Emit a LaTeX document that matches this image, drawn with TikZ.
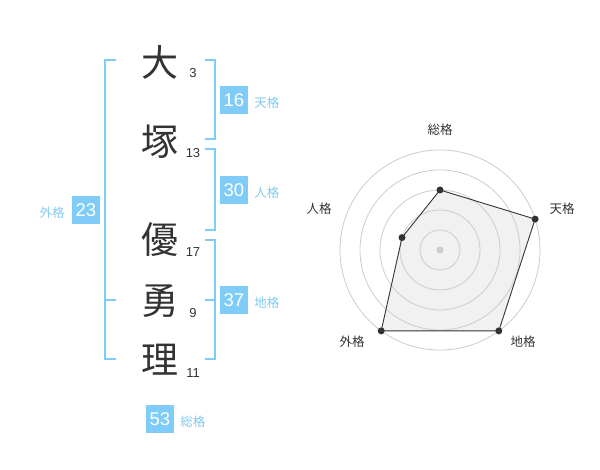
\documentclass[tikz,border=0pt]{standalone}
\usepackage{fontspec}
\setmainfont{Liberation Sans}
\newfontfamily\cjk{Noto Sans CJK JP}
\definecolor{skyb}{RGB}{128,204,248}
\definecolor{labb}{RGB}{130,200,240}
\definecolor{ink}{RGB}{51,51,51}
\definecolor{ringc}{RGB}{204,204,204}
\definecolor{polyfill}{RGB}{241,241,241}
\tikzset{
  kanji/.style={font=\cjk\fontsize{37}{37}\selectfont, text=ink, inner sep=0pt},
  stroke/.style={font=\fontsize{13}{13}\selectfont, text=ink, inner sep=0pt},
  valbox/.style={fill=skyb, text=white, minimum width=28pt, minimum height=28pt, inner sep=0pt, font=\fontsize{18.5}{18.5}\selectfont},
  blab/.style={text=labb, font=\cjk\fontsize{12.5}{12.5}\selectfont, inner sep=0pt},
  brk/.style={draw=skyb, line width=2pt},
  ring/.style={draw=ringc, line width=0.8pt},
  rlab/.style={text=ink, font=\cjk\fontsize{12.5}{12.5}\selectfont, inner sep=0pt},
  dot/.style={circle, fill=ink, minimum size=7pt, inner sep=0pt},
}
\begin{document}
\begin{tikzpicture}[x=1pt,y=-1pt]
\useasboundingbox (0,0) rectangle (600,470);
% kanji
\node[kanji] (k1) at (160,62) {大};
\node[kanji] (k2) at (160,142) {塚};
\node[kanji] (k3) at (160,240) {優};
\node[kanji] (k4) at (160,301) {勇};
\node[kanji] (k5) at (160,360) {理};
\node[stroke] (s1) at (193,73) {3};
\node[stroke] (s2) at (193,153) {13};
\node[stroke] (s3) at (193,252) {17};
\node[stroke] (s4) at (193,313) {9};
\node[stroke] (s5) at (193,373) {11};
% brackets
\draw[brk] (116,60) -- (105,60) -- (105,359) -- (116,359);
\draw[brk] (105,300) -- (116,300);
\draw[brk] (205,60) -- (215,60) -- (215,139) -- (205,139);
\draw[brk] (205,149) -- (215,149) -- (215,230) -- (205,230);
\draw[brk] (205,240) -- (215,240) -- (215,359) -- (205,359);
\draw[brk] (205,300) -- (215,300);
% value boxes
\node[valbox] (b23) at (86,210) {23};
\node[blab, anchor=east] (l23) at ([xshift=-7pt,yshift=-3pt]b23.west) {外格};
\node[valbox] (b16) at (234,100) {16};
\node[blab, anchor=west] (l16) at ([xshift=6pt,yshift=-3pt]b16.east) {天格};
\node[valbox] (b30) at (234,190) {30};
\node[blab, anchor=west] (l30) at ([xshift=6pt,yshift=-3pt]b30.east) {人格};
\node[valbox] (b37) at (234,300) {37};
\node[blab, anchor=west] (l37) at ([xshift=6pt,yshift=-3pt]b37.east) {地格};
\node[valbox] (b53) at (160,419) {53};
\node[blab, anchor=west] (l53) at ([xshift=6pt,yshift=-3pt]b53.east) {総格};
% radar
\coordinate (c) at (440,250);
\coordinate (pS) at (440,190);
\coordinate (pT) at (535.1,219.1);
\coordinate (pC) at (498.8,330.9);
\coordinate (pG) at (381.2,330.9);
\coordinate (pJ) at (402.0,237.6);
\fill[polyfill] (pS) -- (pT) -- (pC) -- (pG) -- (pJ) -- cycle;
\foreach \r in {20,40,60,80,100} \draw[ring] (c) circle (\r);
\fill[ringc] (c) circle (3.5);
\draw[ink, line width=0.9pt] (pS) -- (pT) -- (pC) -- (pG) -- (pJ) -- cycle;
\foreach \p in {pS,pT,pC,pG,pJ} \node[dot] at (\p) {};
\node[rlab] (rS) at (440,130) {総格};
\node[rlab] (rT) at (562,209) {天格};
\node[rlab] (rJ) at (319,209) {人格};
\node[rlab] (rG) at (352,342) {外格};
\node[rlab] (rC) at (523,342) {地格};
\end{tikzpicture}
\end{document}
